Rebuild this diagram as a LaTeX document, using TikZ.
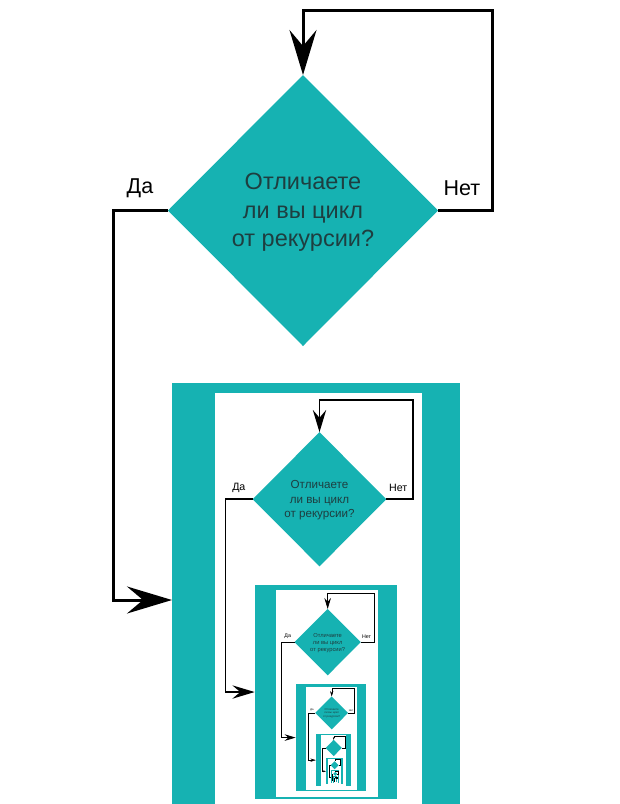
\documentclass[tikz,border=0pt]{standalone}
\usepackage{fontspec}
\setmainfont{Liberation Sans}
\usetikzlibrary{shapes.geometric,arrows.meta}
\definecolor{tealc}{HTML}{16B2B2}
\definecolor{qtext}{HTML}{1E3E40}
\tikzset{
  conn/.style={line width=\mylw pt},
  tipped/.style={-{Stealth[length=\myal pt, width=\myaw pt, inset=\myai pt]}},
  dia/.style={diamond, fill=tealc, minimum width=270pt, minimum height=271pt, inner sep=0pt, outer sep=0pt, transform shape},
  qtxt/.style={transform shape, align=center, text=qtext, inner sep=0pt, font=\fontsize{23.5}{28.5}\selectfont},
  lbl/.style={transform shape, font=\fontsize{21.5}{25}\selectfont, inner sep=0pt},
  boxo/.style={rectangle, fill=tealc, minimum width=288pt, minimum height=434pt, anchor=north west, inner sep=0pt, outer sep=0pt, transform shape},
  boxi/.style={rectangle, fill=white, minimum width=207pt, minimum height=419pt, anchor=north west, inner sep=0pt, outer sep=0pt, transform shape}
}
\begin{document}
\begin{tikzpicture}[x=1pt,y=-1pt]
  \useasboundingbox (0,0) rectangle (620,804);
  \clip (0,0) rectangle (620,804);
  \fill[white] (0,0) rectangle (620,804);
  \foreach \k in {0,...,7}{
    \pgfmathsetmacro\sk{0.495^\k}
    \pgfmathsetmacro\mytx{169.5*(1-\sk)/0.505}
    \pgfmathsetmacro\myty{395*(1-\sk)/0.505}
    \pgfmathsetmacro\mylw{3*\sk}
    \pgfmathsetmacro\myal{45*\sk}
    \pgfmathsetmacro\myaw{27*\sk}
    \pgfmathsetmacro\myai{16*\sk}
    \node[boxo, scale=\sk] (box) at ({\mytx+\sk*172},{\myty+\sk*383}) {};
    \node[boxi, scale=\sk] (inner) at ({\mytx+\sk*215},{\myty+\sk*393}) {};
    \node[dia, scale=\sk] (d) at ({\mytx+\sk*303},{\myty+\sk*210.5}) {};
    \ifnum\k<4
      \node[qtxt, scale=\sk] (q) at ({\mytx+\sk*303},{\myty+\sk*212.5}) {Отличаете\\ли вы цикл\\от рекурсии?};
      \node[lbl, scale=\sk] (yes) at ({\mytx+\sk*140},{\myty+\sk*188}) {Да};
      \node[lbl, scale=\sk] (no) at ({\mytx+\sk*462},{\myty+\sk*188}) {Нет};
    \fi
    \coordinate (loop) at ({\mytx+\sk*492},{\myty+\sk*10});
    \coordinate (down) at ({\mytx+\sk*113},{\myty+\sk*600});
    \ifnum\k<5
      \draw[conn,tipped] (d.east) -| (loop) -| (d.north);
      \draw[conn,tipped] (d.west) -| (down) -- (box.west);
    \else
      \draw[conn] (d.east) -| (loop) -| (d.north);
      \draw[conn] (d.west) -| (down) -- (box.west);
    \fi
  }
\end{tikzpicture}
\end{document}
